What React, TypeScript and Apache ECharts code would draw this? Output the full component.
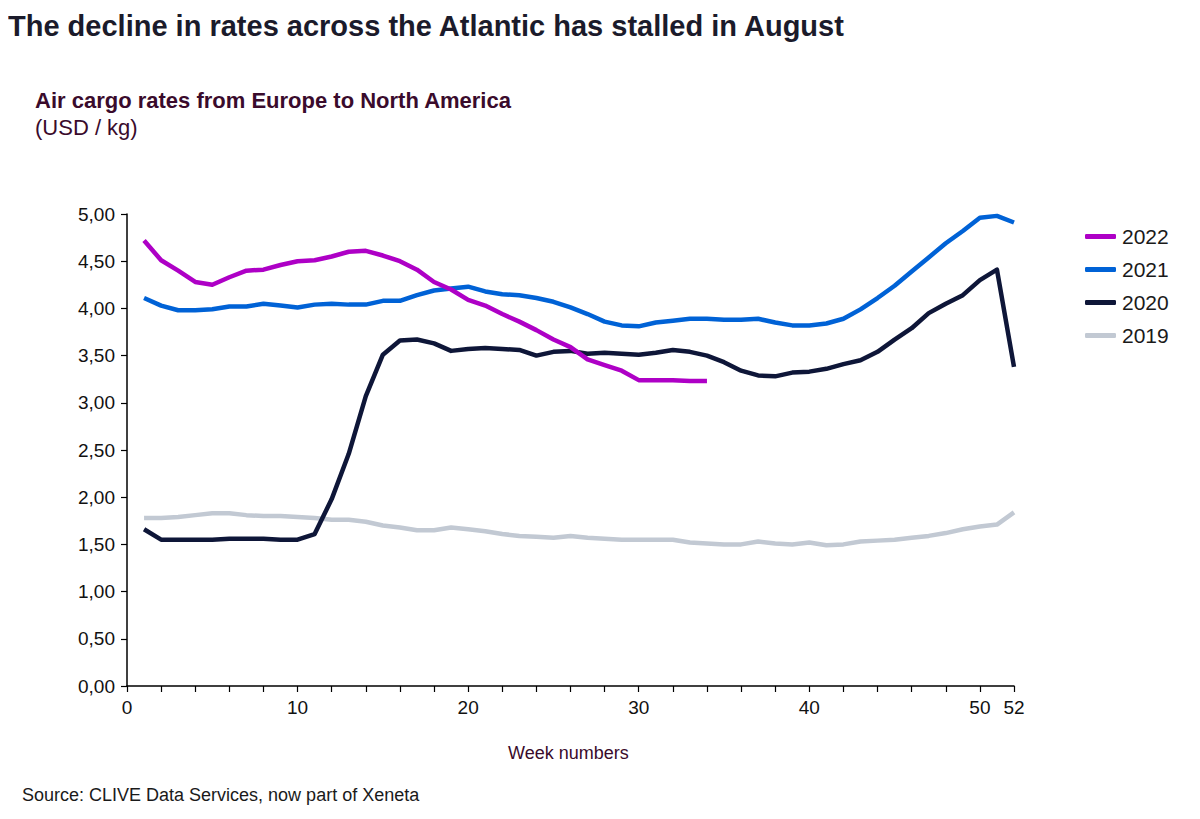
import React, { useEffect, useRef } from "react";
import * as echarts from "echarts";

const weeks = Array.from({ length: 52 }, (_, i) => i + 1);

const y2022 = [4.72, 4.51, 4.40, 4.28, 4.25, 4.33, 4.40, 4.41, 4.46, 4.50, 4.51, 4.55, 4.60, 4.61, 4.56, 4.50, 4.41, 4.28, 4.20, 4.09, 4.03, 3.94, 3.86, 3.77, 3.67, 3.59, 3.46, 3.40, 3.34, 3.24, 3.24, 3.24, 3.23, 3.23];
const y2021 = [4.11, 4.03, 3.98, 3.98, 3.99, 4.02, 4.02, 4.05, 4.03, 4.01, 4.04, 4.05, 4.04, 4.04, 4.08, 4.08, 4.14, 4.19, 4.21, 4.23, 4.18, 4.15, 4.14, 4.11, 4.07, 4.01, 3.94, 3.86, 3.82, 3.81, 3.85, 3.87, 3.89, 3.89, 3.88, 3.88, 3.89, 3.85, 3.82, 3.82, 3.84, 3.89, 3.99, 4.11, 4.24, 4.39, 4.54, 4.69, 4.82, 4.96, 4.98, 4.91];
const y2020 = [1.66, 1.55, 1.55, 1.55, 1.55, 1.56, 1.56, 1.56, 1.55, 1.55, 1.61, 1.98, 2.46, 3.07, 3.51, 3.66, 3.67, 3.63, 3.55, 3.57, 3.58, 3.57, 3.56, 3.50, 3.54, 3.55, 3.52, 3.53, 3.52, 3.51, 3.53, 3.56, 3.54, 3.50, 3.43, 3.34, 3.29, 3.28, 3.32, 3.33, 3.36, 3.41, 3.45, 3.54, 3.67, 3.79, 3.95, 4.05, 4.14, 4.30, 4.41, 3.38];
const y2019 = [1.78, 1.78, 1.79, 1.81, 1.83, 1.83, 1.81, 1.80, 1.80, 1.79, 1.78, 1.76, 1.76, 1.74, 1.70, 1.68, 1.65, 1.65, 1.68, 1.66, 1.64, 1.61, 1.59, 1.58, 1.57, 1.59, 1.57, 1.56, 1.55, 1.55, 1.55, 1.55, 1.52, 1.51, 1.50, 1.50, 1.53, 1.51, 1.50, 1.52, 1.49, 1.50, 1.53, 1.54, 1.55, 1.57, 1.59, 1.62, 1.66, 1.69, 1.71, 1.84];

const seriesNames = ["2022", "2021", "2020", "2019"];
const seriesData = [y2022, y2021, y2020, y2019];
const colors = ["#AE00C6", "#0062D6", "#0E1638", "#C2C9D3"];

const title = "The decline in rates across the Atlantic has stalled in August";
const subtitle = "Air cargo rates from Europe to North America";
const unit = "(USD / kg)";
const xName = "Week numbers";
const source = "Source: CLIVE Data Services, now part of Xeneta";

const FONT = "'Liberation Sans', Arial, sans-serif";

export default function App() {
  const ref = useRef<HTMLDivElement>(null);
  useEffect(() => {
    if (!ref.current) return;
    const chart = echarts.init(ref.current, null, { renderer: "svg" });
    chart.setOption({
      animation: false,
      backgroundColor: "#ffffff",
      textStyle: { fontFamily: FONT },
      grid: { left: 127, right: 186, top: 214, bottom: 133, containLabel: false },
      legend: {
        orient: "vertical",
        left: 1080,
        top: 221,
        itemWidth: 31,
        itemHeight: 5,
        itemGap: 12,
        icon: "roundRect",
        textStyle: { fontSize: 21, color: "#1a1a1a", fontFamily: FONT, padding: [0, 0, 0, 1] },
        data: seriesNames,
      },
      xAxis: {
        type: "value",
        min: 0,
        max: 52,
        interval: 2,
        axisLine: { show: true, lineStyle: { color: "#000", width: 1.5 } },
        axisTick: { show: true, length: 6, lineStyle: { color: "#000", width: 1.2 } },
        splitLine: { show: false },
        axisLabel: {
          fontSize: 19,
          color: "#111",
          margin: 12,
          showMaxLabel: true,
          formatter: (v: number) => (v % 10 === 0 || v === 52 ? String(v) : ""),
        },
      },
      yAxis: {
        type: "value",
        min: 0,
        max: 5,
        interval: 0.5,
        axisLine: { show: true, lineStyle: { color: "#000", width: 1.5 } },
        axisTick: { show: true, length: 6, lineStyle: { color: "#000", width: 1.2 } },
        splitLine: { show: false },
        axisLabel: {
          fontSize: 19,
          color: "#111",
          margin: 12,
          formatter: (v: number) => v.toFixed(2).replace(".", ","),
        },
      },
      series: seriesNames.map((name, i) => ({
        name,
        type: "line",
        data: seriesData[i].map((v, j) => [weeks[j], v]),
        symbol: "none",
        lineStyle: { color: colors[i], width: 4.5, join: "round" },
        itemStyle: { color: colors[i] },
        z: 10 - i,
      })),
      graphic: [
        {
          type: "text",
          left: 8,
          top: 11,
          style: { text: title, font: `bold 29px ${FONT}`, fill: "#1b1b2b" },
        },
        {
          type: "text",
          left: 35,
          top: 89,
          style: { text: subtitle, font: `bold 22px ${FONT}`, fill: "#3a0b2c" },
        },
        {
          type: "text",
          left: 35,
          top: 116,
          style: { text: unit, font: `22px ${FONT}`, fill: "#3a0b2c" },
        },
        {
          type: "text",
          left: 508,
          top: 744,
          style: { text: xName, font: `18px ${FONT}`, fill: "#3a0b2c" },
        },
        {
          type: "text",
          left: 22,
          top: 786,
          style: { text: source, font: `18px ${FONT}`, fill: "#1a1a1a" },
        },
      ],
    });
    return () => chart.dispose();
  }, []);
  return <div ref={ref} style={{ width: 1200, height: 819, margin: -8 }} />;
}
